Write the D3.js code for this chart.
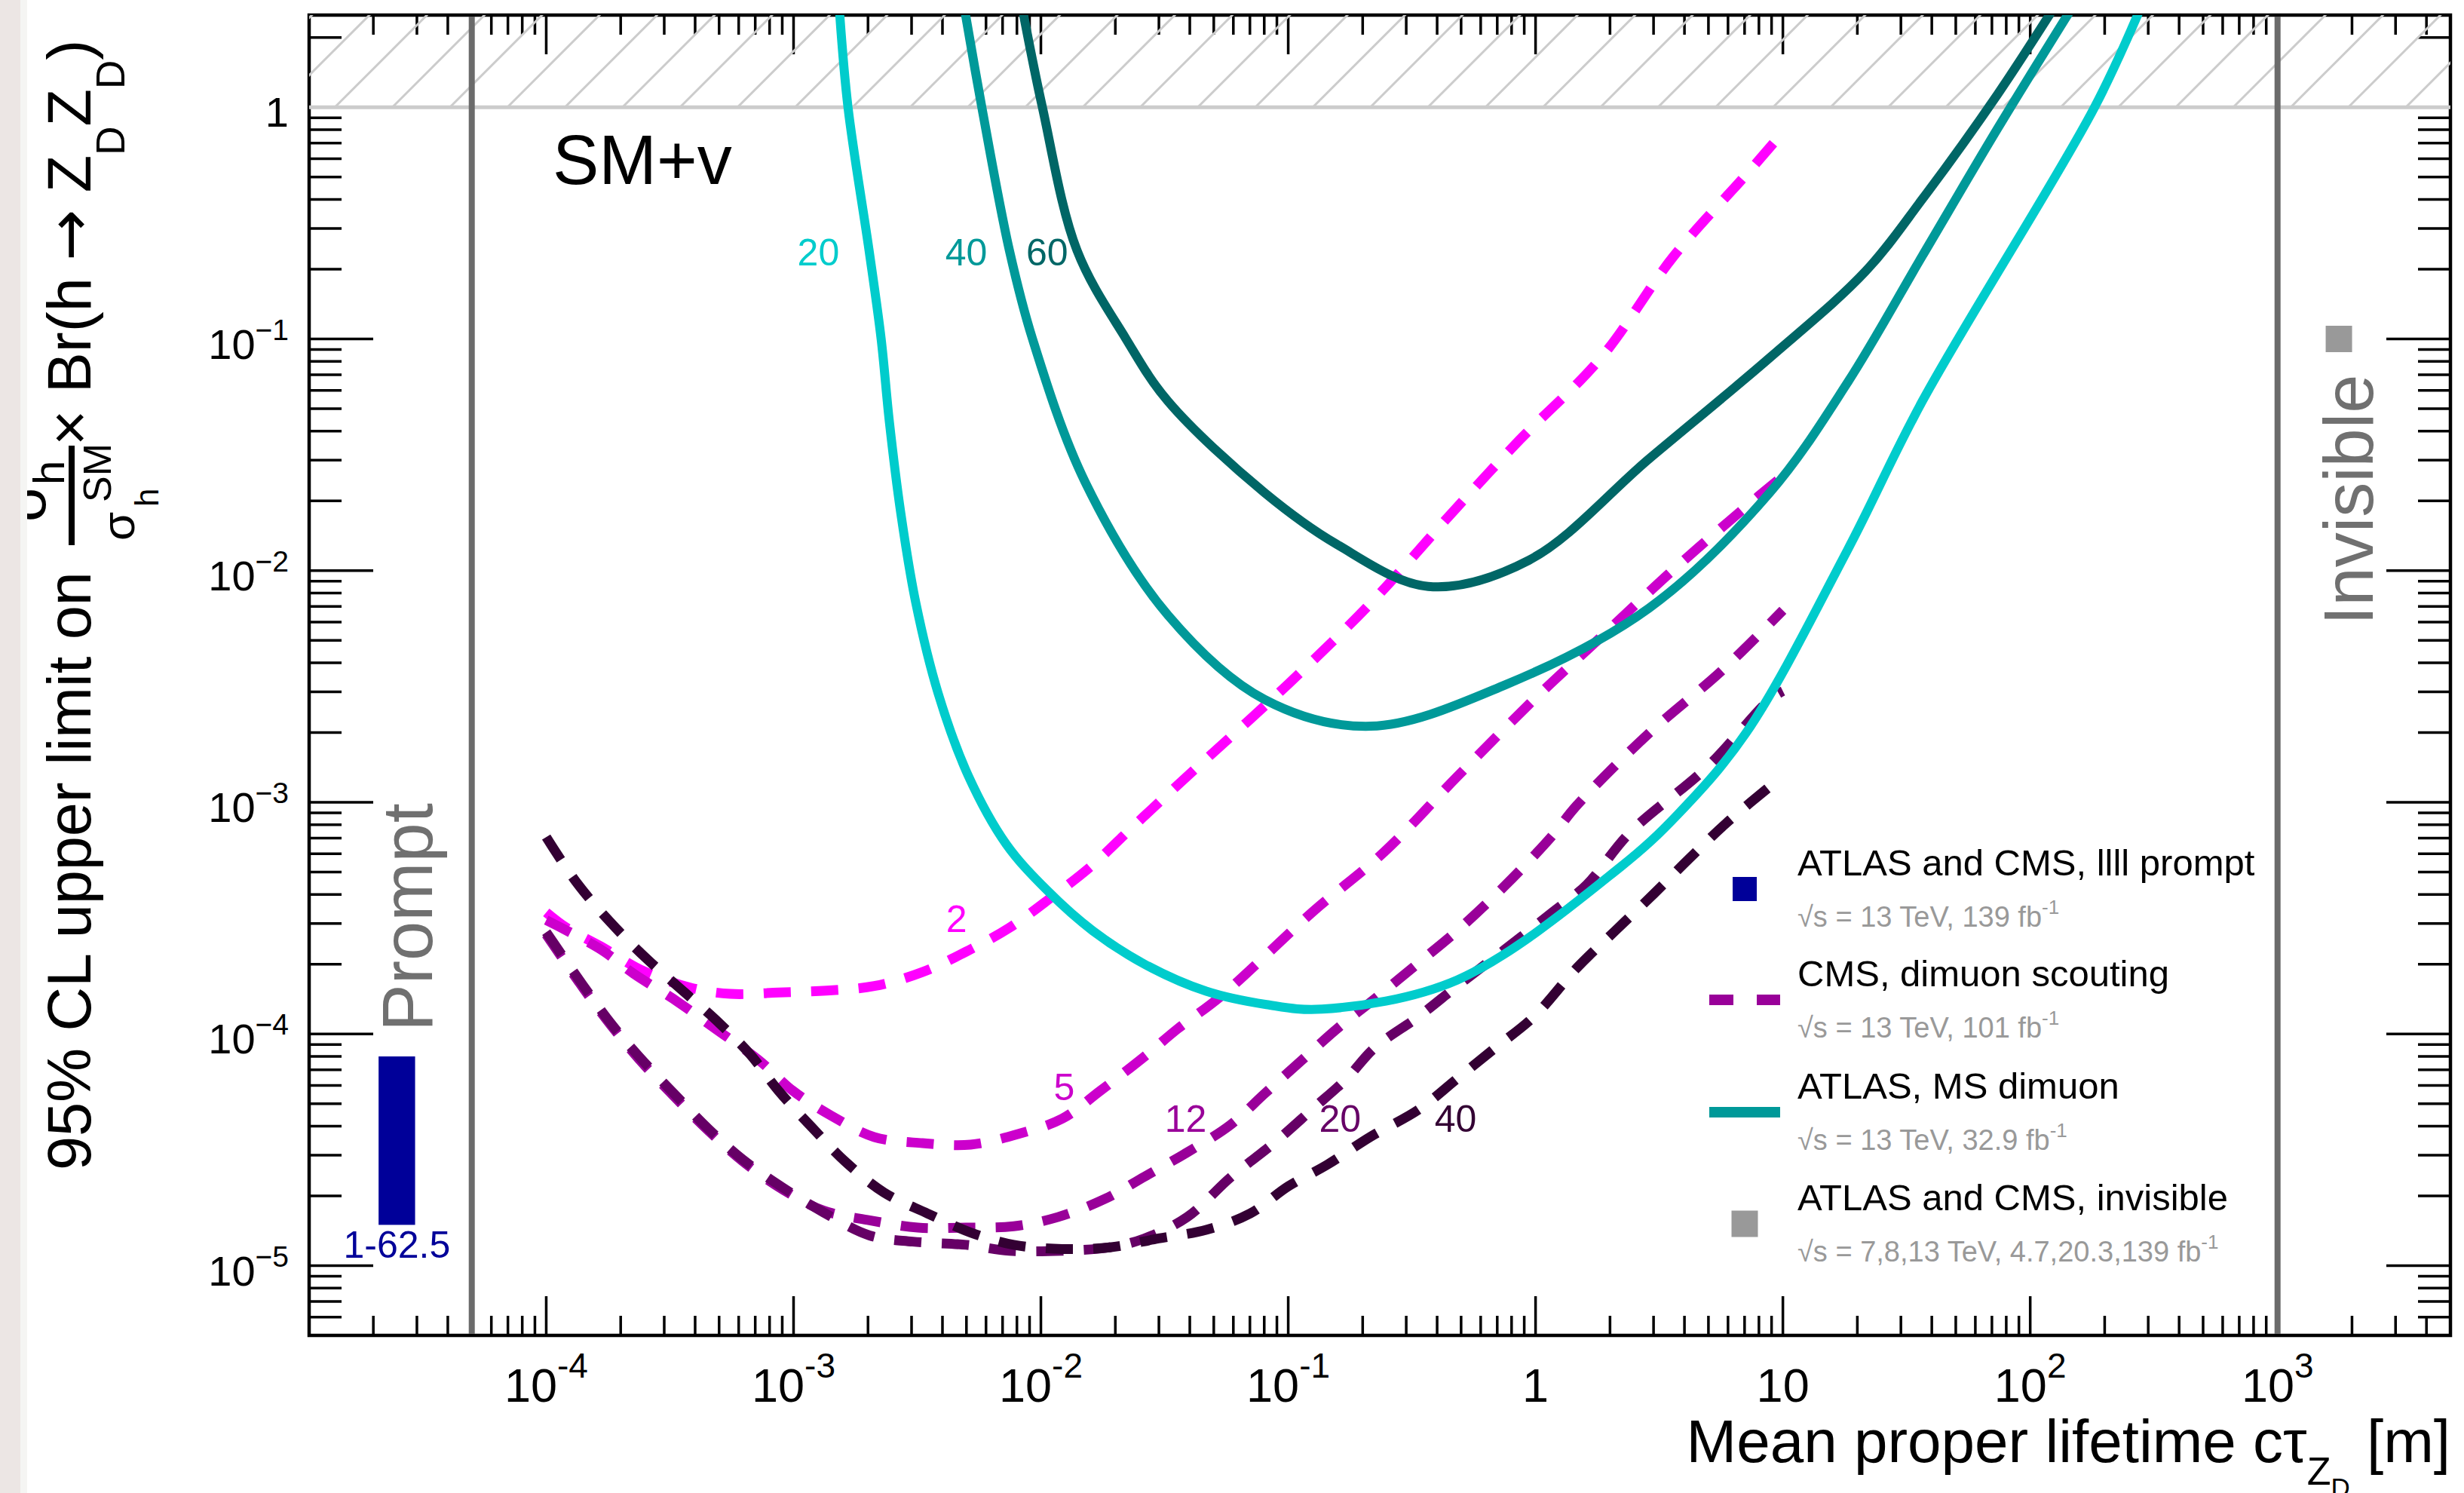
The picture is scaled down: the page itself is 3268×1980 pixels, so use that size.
<!DOCTYPE html>
<html><head><meta charset="utf-8">
<script src="https://cdn.jsdelivr.net/npm/d3@7"></script>
<style>
html,body{margin:0;padding:0;background:#fff;}
svg{display:block;}
text{font-family:"Liberation Sans",Arial,Helvetica,sans-serif;}
</style></head><body>
<svg id="chart" width="3268" height="1980"></svg>
<script>
// ---------------- DATA ----------------
const xDomain = [1.1e-5, 5e3];
const yDomain = [5e-6, 2.5];
const xTickValues = [1e-4, 1e-3, 1e-2, 1e-1, 1, 10, 100, 1000];
const xTickBase   = ["10","10","10","10","1","10","10","10"];
const xTickExp    = ["-4","-3","-2","-1","","","2","3"];
const yTickValues = [1, 1e-1, 1e-2, 1e-3, 1e-4, 1e-5];
const yTickBase   = ["1","10","10","10","10","10"];
const yTickExp    = ["","\u22121","\u22122","\u22123","\u22124","\u22125"];

const excludedAbove = 1;          // hatched region above this value
const promptBoundary = 5e-5;      // vertical line "Prompt"
const invisibleBoundary = 1e3;    // vertical line "Invisible"

// ATLAS MS dimuon (solid), labelled by Z_D mass
const atlas20 = [[1.53e-3,2.7],[1.66e-3,1.0],[2.02e-3,0.241],[2.26e-3,0.1],[2.44e-3,0.0439],[2.71e-3,0.0179],[3.12e-3,7.27e-3],[3.84e-3,2.96e-3],[5.09e-3,1.30e-3],[7.24e-3,6.60e-4],[1.064e-2,4.15e-4],[1.62e-2,2.79e-4],[2.65e-2,1.99e-4],[4.66e-2,1.53e-4],[8.17e-2,1.34e-4],[0.137,1.28e-4],[0.482,1.71e-4],[2.21,5.27e-4],[3.77,8.9e-4],[7.09,1.99e-3],[18.2,1.22e-2],[36.6,5.38e-2],[182,1.0],[280,2.7]];
const atlas40 = [[4.9e-3,2.7],[5.77e-3,1.0],[7.46e-3,0.241],[9.25e-3,0.1],[1.51e-2,2.41e-2],[3.27e-2,6.41e-3],[8.02e-2,2.78e-3],[0.215,2.13e-3],[0.753,3.21e-3],[2.88,6.9e-3],[8.85,2.17e-2],[18.2,6.45e-2],[36.6,0.228],[73.9,0.811],[148,2.7]];
const atlas60 = [[8.4e-3,2.7],[1.014e-2,1.0],[1.40e-2,0.241],[2.21e-2,0.1],[3.27e-2,5.37e-2],[8.02e-2,2.17e-2],[0.157,1.30e-2],[0.368,8.55e-3],[0.942,1.11e-2],[2.88,3.04e-2],[8.85,8.3e-2],[21.6,0.196],[36.6,0.401],[73.9,1.14],[125,2.7]];

// CMS dimuon scouting (dashed), labelled by Z_D mass
const cms2  = [[1e-4,3.35e-4],[1.21e-4,2.87e-4],[1.66e-4,2.39e-4],[2.47e-4,1.87e-4],[3.87e-4,1.58e-4],[5.55e-4,1.49e-4],[8.69e-4,1.51e-4],[1.36e-3,1.54e-4],[2.12e-3,1.61e-4],[3.32e-3,1.85e-4],[5.2e-3,2.32e-4],[7.45e-3,2.87e-4],[1.11e-2,3.91e-4],[1.6e-2,5.31e-4],[2.39e-2,7.96e-4],[3.92e-2,1.3e-3],[0.1,3.24e-3],[0.215,7.22e-3],[0.482,1.88e-2],[0.863,3.67e-2],[1.84,8.3e-2],[3.61,0.227],[7.07,0.509],[10,0.78]];
const cms5  = [[1e-4,3.1e-4],[1.66e-4,2.32e-4],[2.26e-4,1.82e-4],[3.39e-4,1.38e-4],[4.85e-4,1.05e-4],[7.24e-4,7.71e-5],[9.93e-4,5.69e-5],[1.42e-3,4.44e-5],[2.12e-3,3.59e-5],[3.32e-3,3.38e-5],[5.2e-3,3.33e-5],[8.17e-3,3.71e-5],[1.22e-2,4.31e-5],[1.74e-2,5.69e-5],[2.62e-2,7.98e-5],[3.56e-2,1.05e-4],[5.36e-2,1.46e-4],[0.125,3.35e-4],[0.245,6.12e-4],[0.482,1.29e-3],[0.986,2.78e-3],[1.84,5.17e-3],[3.61,1.01e-2],[7.07,1.88e-2],[10,2.56e-2]];
const cms12 = [[1e-4,2.69e-4],[1.41e-4,1.58e-4],[1.84e-4,1.08e-4],[2.37e-4,7.8e-5],[3.3e-4,5.36e-5],[4.52e-4,3.83e-5],[6.21e-4,2.83e-5],[9.06e-4,2.13e-5],[1.32e-3,1.73e-5],[2.03e-3,1.57e-5],[3.18e-3,1.46e-5],[4.98e-3,1.46e-5],[7.76e-3,1.48e-5],[1.17e-2,1.62e-5],[1.83e-2,1.95e-5],[2.62e-2,2.42e-5],[3.9e-2,3.08e-5],[5.85e-2,4.06e-5],[8.02e-2,5.52e-5],[0.115,7.8e-5],[0.157,1.05e-4],[0.224,1.42e-4],[0.352,2.11e-4],[0.482,2.79e-4],[0.753,4.37e-4],[1.17,7.19e-4],[1.47,9.71e-4],[2.88,1.99e-3],[5.66,3.7e-3],[10,6.74e-3]];
const cms20 = [[1e-4,2.75e-4],[1.41e-4,1.62e-4],[1.84e-4,1.1e-4],[2.37e-4,8.0e-5],[3.3e-4,5.5e-5],[4.52e-4,3.9e-5],[6.21e-4,2.88e-5],[9.06e-4,2.17e-5],[1.32e-3,1.70e-5],[2.03e-3,1.35e-5],[3.03e-3,1.27e-5],[4.98e-3,1.23e-5],[7.45e-3,1.16e-5],[1.22e-2,1.16e-5],[1.9e-2,1.2e-5],[2.62e-2,1.31e-5],[3.9e-2,1.62e-5],[5.86e-2,2.41e-5],[8.75e-2,3.38e-5],[0.125,4.73e-5],[0.172,6.41e-5],[0.224,8.73e-5],[0.337,1.19e-4],[0.482,1.61e-4],[0.753,2.32e-4],[1.17,3.35e-4],[1.61,4.41e-4],[2.41,7.41e-4],[4.94,1.42e-3],[8.85,2.78e-3],[10,3.02e-3]];
const cms40 = [[1e-4,7.08e-4],[1.32e-4,4.54e-4],[1.81e-4,3.05e-4],[2.47e-4,2.18e-4],[3.39e-4,1.61e-4],[4.85e-4,1.15e-4],[6.64e-4,8.22e-5],[8.69e-4,5.69e-5],[1.19e-3,3.94e-5],[1.62e-3,2.81e-5],[2.32e-3,2.07e-5],[3.48e-3,1.68e-5],[5.2e-3,1.39e-5],[7.76e-3,1.23e-5],[1.22e-2,1.18e-5],[1.9e-2,1.2e-5],[2.99e-2,1.31e-5],[4.69e-2,1.43e-5],[7.02e-2,1.68e-5],[0.1,2.2e-5],[0.144,2.73e-5],[0.215,3.6e-5],[0.337,4.72e-5],[0.482,6.41e-5],[0.689,8.73e-5],[0.986,1.19e-4],[1.47,1.93e-4],[2.1,2.79e-4],[3.01,4.03e-4],[4.13,5.64e-4],[5.91,8.14e-4],[10,1.3e-3]];

const solidSeries  = [atlas20, atlas40, atlas60];
const solidColors  = ["#00cccc", "#009999", "#006666"];
const solidLabels  = ["20", "40", "60"];
const solidLabelPos = [[1.26e-3,0.207],[4.99e-3,0.207],[1.06e-2,0.207]];

const dashedSeries = [cms2, cms5, cms12, cms20, cms40];
const dashedColors = ["#ff00ff", "#cc00cc", "#990099", "#660066", "#330033"];
const dashedLabels = ["2", "5", "12", "20", "40"];
const dashedLabelPos = [[4.56e-3,2.75e-4],[1.243e-2,5.2e-5],[3.85e-2,3.77e-5],[0.162,3.77e-5],[0.475,3.77e-5]];

// prompt 4-lepton limit band (x range, y range), invisible marker
const promptX = [2.1e-5, 2.95e-5];
const promptY = [1.5e-5, 8e-5];
const promptLabel = "1-62.5";
const invisiblePoint = [1770, 0.1];

const legendLabels = ["ATLAS and CMS, llll prompt", "CMS, dimuon scouting", "ATLAS, MS dimuon", "ATLAS and CMS, invisible"];
const legendSubs   = ["\u221As = 13 TeV, 139 fb", "\u221As = 13 TeV, 101 fb", "\u221As = 13 TeV, 32.9 fb", "\u221As = 7,8,13 TeV, 4.7,20.3,139 fb"];
const legendKinds  = ["box", "dash", "line", "box"];
const legendColors = ["#000099", "#990099", "#009999", "#999999"];

// ---------------- DRAWING ----------------
const svg = d3.select("#chart");
const L = 410, R = 3250, T = 20, B = 1771;
const x = d3.scaleLog().domain(xDomain).range([L, R]);
const y = d3.scaleLog().domain(yDomain).range([B, T]);

svg.append("rect").attr("width",3268).attr("height",1980).attr("fill","#fff");

const defs = svg.append("defs");
defs.append("clipPath").attr("id","plotclip").append("rect").attr("x",L).attr("y",T).attr("width",R-L).attr("height",B-T);
defs.append("clipPath").attr("id","hatchclip").append("rect").attr("x",L).attr("y",T).attr("width",R-L).attr("height",y(excludedAbove)-T);

function logTicks(dom){
  const out=[];
  for(let e=Math.floor(Math.log10(dom[0])); e<=Math.ceil(Math.log10(dom[1])); e++){
    for(let m=1;m<=9;m++){ const v=m*Math.pow(10,e); if(v>=dom[0]*0.999 && v<=dom[1]*1.001) out.push({v:v,major:m===1}); }
  }
  return out;
}
const axes = svg.append("g").attr("stroke","#000").attr("stroke-width",3.5);
logTicks(xDomain).forEach(t=>{
  const len = t.major?52:26, px=x(t.v);
  axes.append("line").attr("x1",px).attr("x2",px).attr("y1",B).attr("y2",B-len);
  axes.append("line").attr("x1",px).attr("x2",px).attr("y1",T).attr("y2",T+len);
});
logTicks(yDomain).forEach(t=>{
  const len = t.major?85:43, py=y(t.v);
  axes.append("line").attr("x1",L).attr("x2",L+len).attr("y1",py).attr("y2",py);
  axes.append("line").attr("x1",R).attr("x2",R-len).attr("y1",py).attr("y2",py);
});
svg.append("rect").attr("x",L).attr("y",T).attr("width",R-L).attr("height",B-T)
  .attr("fill","none").attr("stroke","#000").attr("stroke-width",4.5);

// hatched excluded region
const y1px = y(excludedAbove);
const hg = svg.append("g").attr("clip-path","url(#hatchclip)").attr("stroke","#cccccc").attr("stroke-width",3);
for(let x0 = 444 - 76.3*3; x0 < R; x0 += 76.3){
  hg.append("line").attr("x1",x0).attr("y1",y1px).attr("x2",x0+(y1px-T)+4).attr("y2",T-4);
}
svg.append("line").attr("x1",L).attr("x2",R).attr("y1",y1px).attr("y2",y1px).attr("stroke","#cccccc").attr("stroke-width",5);

// vertical boundaries
[promptBoundary, invisibleBoundary].forEach(v=>{
  svg.append("line").attr("x1",x(v)).attr("x2",x(v)).attr("y1",T+2).attr("y2",B-2).attr("stroke","#6b6b6b").attr("stroke-width",8);
});

// curves
const line = d3.line().x(d=>x(d[0])).y(d=>y(d[1])).curve(d3.curveCatmullRom.alpha(0.5));
const cg = svg.append("g").attr("clip-path","url(#plotclip)").attr("fill","none");
dashedSeries.forEach((s,i)=>{
  cg.append("path").attr("d",line(s)).attr("stroke",dashedColors[i]).attr("stroke-width",13)
    .attr("stroke-dasharray","36,27").attr("stroke-linecap","butt");
});
solidSeries.forEach((s,i)=>{
  cg.append("path").attr("d",line(s)).attr("stroke",solidColors[i]).attr("stroke-width",12);
});

// curve labels
solidLabels.forEach((t,i)=>{
  svg.append("text").attr("x",x(solidLabelPos[i][0])).attr("y",y(solidLabelPos[i][1]))
    .attr("text-anchor","middle").attr("font-size",50).attr("fill",solidColors[i]).text(t);
});
dashedLabels.forEach((t,i)=>{
  svg.append("text").attr("x",x(dashedLabelPos[i][0])).attr("y",y(dashedLabelPos[i][1]))
    .attr("text-anchor","middle").attr("font-size",50).attr("fill",dashedColors[i]).text(t);
});

// prompt band
svg.append("rect").attr("x",x(promptX[0])).attr("width",x(promptX[1])-x(promptX[0]))
  .attr("y",y(promptY[1])).attr("height",y(promptY[0])-y(promptY[1])).attr("fill","#000099");
svg.append("text").attr("x",(x(promptX[0])+x(promptX[1]))/2).attr("y",1668).attr("text-anchor","middle")
  .attr("font-size",50).attr("fill","#000099").text(promptLabel);

// invisible marker
svg.append("rect").attr("x",x(invisiblePoint[0])-17.5).attr("y",y(invisiblePoint[1])-17.5)
  .attr("width",35).attr("height",35).attr("fill","#999999");

// region labels
svg.append("text").attr("transform","translate(573,1368) rotate(-90)").attr("font-size",94).attr("fill","#707070").text("Prompt");
svg.append("text").attr("transform","translate(3147,829) rotate(-90)").attr("font-size",92).attr("fill","#707070").text("Invisible");
svg.append("text").attr("x",733).attr("y",244).attr("font-size",92).attr("fill","#000").text("SM+v");

// tick labels
xTickValues.forEach((v,i)=>{
  const t = svg.append("text").attr("x",x(v)).attr("y",1859).attr("text-anchor","middle").attr("font-size",63);
  t.append("tspan").text(xTickBase[i]);
  if(xTickExp[i]) t.append("tspan").attr("font-size",46).attr("dy",-32).text(xTickExp[i]);
});
yTickValues.forEach((v,i)=>{
  const t = svg.append("text").attr("x",383).attr("y",y(v)+26).attr("text-anchor","end").attr("font-size",56);
  t.append("tspan").text(yTickBase[i]);
  if(yTickExp[i]) t.append("tspan").attr("font-size",39).attr("dy",-25).text(yTickExp[i]);
});

// x title
const xt = svg.append("text").attr("x",3250).attr("y",1939).attr("text-anchor","end").attr("font-size",80);
xt.append("tspan").text("Mean proper lifetime c\u03C4");
xt.append("tspan").attr("font-size",52).attr("dy",30).text("Z");
xt.append("tspan").attr("font-size",35).attr("dy",16).text("D");
xt.append("tspan").attr("font-size",80).attr("dy",-46).text("  [m]");

// y title
const gy = svg.append("g").attr("transform","translate(120,1552) rotate(-90)");
gy.append("text").attr("x",0).attr("y",0).attr("font-size",81).text("95% CL upper limit on");
gy.append("line").attr("x1",829).attr("x2",961).attr("y1",-25).attr("y2",-25).attr("stroke","#000").attr("stroke-width",8);
gy.append("text").attr("x",860).attr("y",-60).attr("font-size",80).text("\u03C3");
gy.append("text").attr("x",909).attr("y",-35).attr("font-size",58).text("h");
gy.append("text").attr("x",835).attr("y",58).attr("font-size",62).text("\u03C3");
gy.append("text").attr("x",886).attr("y",27).attr("font-size",52).text("SM");
gy.append("text").attr("x",880).attr("y",90).attr("font-size",44).text("h");
const yt2 = gy.append("text").attr("x",961).attr("y",0).attr("font-size",81);
yt2.append("tspan").text(" \u00D7 Br(h ");
yt2.append("tspan").style("font-family","'DejaVu Sans'").text("\u2192");
yt2.append("tspan").text(" Z");
yt2.append("tspan").attr("font-size",53).attr("dy",45).text("D");
yt2.append("tspan").attr("font-size",81).attr("dy",-45).text("Z");
yt2.append("tspan").attr("font-size",53).attr("dy",45).text("D");
yt2.append("tspan").attr("font-size",81).attr("dy",-45).text(")");

// left edge strip
svg.append("rect").attr("x",0).attr("y",0).attr("width",27).attr("height",1980).attr("fill","#ece6e4");
svg.append("rect").attr("x",27).attr("y",0).attr("width",9).attr("height",1980).attr("fill","#f5f5f3");

// legend
const legBase = [1161, 1308, 1457, 1605];
legendLabels.forEach((lab,i)=>{
  const by = legBase[i], cy = by+18;
  if(legendKinds[i]==="box"){
    const s = i===0?32:35;
    svg.append("rect").attr("x",2314-s/2).attr("y",cy-s/2).attr("width",s).attr("height",s).attr("fill",legendColors[i]);
  } else {
    svg.append("line").attr("x1",2267).attr("x2",2361).attr("y1",cy).attr("y2",cy)
      .attr("stroke",legendColors[i]).attr("stroke-width",14)
      .attr("stroke-dasharray", legendKinds[i]==="dash" ? "32,31" : null);
  }
  svg.append("text").attr("x",2384).attr("y",by).attr("font-size",49).attr("fill","#000").text(lab);
  const st = svg.append("text").attr("x",2384).attr("y",by+68).attr("font-size",38).attr("fill","#999999");
  st.append("tspan").text(legendSubs[i]);
  st.append("tspan").attr("font-size",26).attr("dy",-17).text("-1");
});
</script>
</body></html>
